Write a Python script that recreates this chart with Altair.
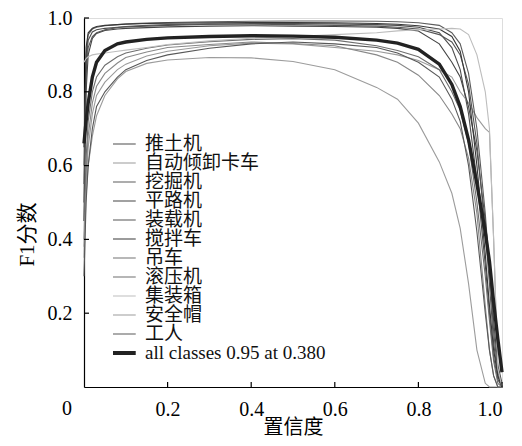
import altair as alt
import pandas as pd

# confidence grid
xs = [0, 0.005, 0.01, 0.02, 0.03, 0.05, 0.08, 0.1, 0.15, 0.2, 0.3, 0.4, 0.5, 0.6,
      0.7, 0.75, 0.8, 0.85, 0.88, 0.9, 0.92, 0.94, 0.96, 0.97, 0.98, 0.99, 1.0]

classes = ["推土机", "自动倾卸卡车", "挖掘机", "平路机", "装载机", "搅拌车",
           "吊车", "滚压机", "集装箱", "安全帽", "工人"]
colors = ["#4d4d4d", "#9a9a9a", "#5c5c5c", "#444444", "#555555", "#383838",
          "#888888", "#6e6e6e", "#bdbdbd", "#9c9c9c", "#585858"]

tuituji = [0.5, 0.88, 0.94, 0.962, 0.968, 0.972, 0.975, 0.976, 0.978, 0.98, 0.983, 0.985, 0.985, 0.984,
           0.982, 0.98, 0.975, 0.96, 0.92, 0.86, 0.74, 0.56, 0.33, 0.2, 0.08, 0.02, 0.0]
zidong = [0.38, 0.55, 0.65, 0.74, 0.79, 0.826, 0.86, 0.875, 0.897, 0.91, 0.925, 0.932, 0.93, 0.92,
          0.91, 0.9, 0.885, 0.86, 0.84, 0.8, 0.77, 0.73, 0.7, 0.69, 0.4, 0.05, 0.0]
wajue = [0.6, 0.9, 0.955, 0.97, 0.975, 0.979, 0.982, 0.984, 0.986, 0.988, 0.99, 0.991, 0.992, 0.992,
         0.991, 0.99, 0.987, 0.98, 0.96, 0.93, 0.85, 0.7, 0.47, 0.32, 0.15, 0.04, 0.0]
pinglu = [0.45, 0.8, 0.9, 0.945, 0.958, 0.966, 0.97, 0.972, 0.974, 0.976, 0.978, 0.979, 0.978, 0.977,
          0.975, 0.972, 0.965, 0.93, 0.88, 0.84, 0.76, 0.64, 0.45, 0.33, 0.18, 0.06, 0.01]
zhuangzai = [0.55, 0.85, 0.92, 0.95, 0.96, 0.968, 0.974, 0.977, 0.98, 0.982, 0.984, 0.983, 0.982, 0.98,
             0.978, 0.975, 0.97, 0.955, 0.935, 0.9, 0.82, 0.66, 0.42, 0.28, 0.12, 0.03, 0.0]
jiaoban = [0.65, 0.92, 0.96, 0.972, 0.977, 0.98, 0.982, 0.983, 0.985, 0.986, 0.987, 0.988, 0.988, 0.987,
           0.985, 0.983, 0.979, 0.97, 0.95, 0.91, 0.8, 0.6, 0.36, 0.22, 0.1, 0.03, 0.0]
diaoche = [0.4, 0.58, 0.68, 0.77, 0.815, 0.85, 0.878, 0.893, 0.908, 0.92, 0.928, 0.935, 0.931, 0.925,
           0.9, 0.88, 0.845, 0.79, 0.74, 0.7, 0.62, 0.47, 0.22, 0.1, 0.03, 0.0, 0.0]
gunya = [0.45, 0.62, 0.72, 0.8, 0.84, 0.872, 0.895, 0.905, 0.918, 0.927, 0.936, 0.942, 0.944, 0.94,
         0.925, 0.912, 0.895, 0.86, 0.8, 0.75, 0.66, 0.5, 0.3, 0.18, 0.07, 0.01, 0.0]
jizhuangxiang = [0.88, 0.89, 0.895, 0.9, 0.902, 0.905, 0.91, 0.913, 0.92, 0.928, 0.938, 0.945, 0.95, 0.955,
                 0.96, 0.965, 0.968, 0.97, 0.972, 0.97, 0.955, 0.9, 0.8, 0.7, 0.4, 0.05, 0.0]
anquanmao = [0.35, 0.52, 0.6, 0.68, 0.735, 0.79, 0.835, 0.855, 0.877, 0.886, 0.893, 0.892, 0.882, 0.86,
             0.812, 0.78, 0.715, 0.61, 0.525, 0.43, 0.28, 0.1, 0.01, 0.0, 0.0, 0.0, 0.0]
gongren = [0.3, 0.5, 0.6, 0.7, 0.76, 0.8, 0.84, 0.86, 0.885, 0.9, 0.918, 0.93, 0.935, 0.93,
           0.92, 0.905, 0.88, 0.84, 0.78, 0.72, 0.6, 0.42, 0.2, 0.1, 0.03, 0.0, 0.0]

mean_label = "all classes 0.95 at 0.380"
mean_all = [0.66, 0.72, 0.77, 0.84, 0.88, 0.912, 0.93, 0.935, 0.942, 0.946, 0.95, 0.952, 0.951, 0.948,
            0.94, 0.932, 0.915, 0.875, 0.82, 0.76, 0.67, 0.55, 0.42, 0.34, 0.23, 0.13, 0.04]

series = [tuituji, zidong, wajue, pinglu, zhuangzai, jiaoban, diaoche, gunya,
          jizhuangxiang, anquanmao, gongren]

tick_vals = [0.2, 0.4, 0.6, 0.8, 1.0]

rows = []
for name, ys in zip(classes, series):
    for x, y in zip(xs, ys):
        rows.append({"conf": x, "f1": y, "cls": name})
df_cls = pd.DataFrame(rows)
df_mean = pd.DataFrame({"conf": xs, "f1": mean_all, "cls": mean_label})
df_ticks = pd.DataFrame({"v": tick_vals})
df_zero = pd.DataFrame({"t": ["0"]})

domain = classes + [mean_label]
color_range = colors + ["#222222"]

LATIN = "Liberation Serif, Noto Sans CJK SC"
W, H = 418, 369

xscale = alt.Scale(domain=[0, 1], nice=False)
yscale = alt.Scale(domain=[0, 1], nice=False)

legend = alt.Legend(title=None, orient="none", legendX=29, legendY=117,
                    symbolType="stroke", symbolSize=700,
                    symbolStrokeWidth=alt.ExprRef(
                        "datum.value == '" + mean_label + "' ? 4 : 1.2"),
                    labelFont=LATIN, labelFontSize=19, labelColor="#111",
                    labelOffset=13, rowPadding=0, clipHeight=18, labelLimit=400,
                    padding=0)

color_enc = alt.Color("cls:N", scale=alt.Scale(domain=domain, range=color_range),
                      legend=legend)

xaxis = alt.Axis(values=tick_vals, format=".1f", tickSize=0, labelPadding=12, grid=False,
                 domainColor="black", domainWidth=1.2, labelFont=LATIN, labelFontSize=20,
                 labelColor="black", title="置信度", titleFont=LATIN, titleFontSize=20,
                 titleFontWeight="normal", titleColor="black", titleY=30,
                 titleBaseline="top")
yaxis = alt.Axis(values=tick_vals, format=".1f", tickSize=0, labelPadding=12, grid=False,
                 domainColor="black", domainWidth=1.2, labelFont=LATIN, labelFontSize=20,
                 labelColor="black", title="F1分数", titleFont=LATIN, titleFontSize=21,
                 titleFontWeight="normal", titleColor="black", titleX=-57, titleY=216,
                 titleAngle=270, titleAlign="center", titleBaseline="middle")

lines = alt.Chart(df_cls).mark_line(strokeWidth=1.1).encode(
    x=alt.X("conf:Q", scale=xscale, axis=xaxis),
    y=alt.Y("f1:Q", scale=yscale, axis=yaxis),
    color=color_enc,
)
mean_line = alt.Chart(df_mean).mark_line(strokeWidth=3.4).encode(
    x=alt.X("conf:Q", scale=xscale),
    y=alt.Y("f1:Q", scale=yscale),
    color=color_enc,
)
yticks = alt.Chart(df_ticks).mark_rule(color="black", strokeWidth=1.2).encode(
    y=alt.Y("v:Q", scale=yscale), x=alt.value(0), x2=alt.value(5))
xticks = alt.Chart(df_ticks).mark_rule(color="black", strokeWidth=1.2).encode(
    x=alt.X("v:Q", scale=xscale), y=alt.value(H), y2=alt.value(H - 5))
zero = alt.Chart(df_zero).mark_text(font=LATIN, fontSize=20, align="center",
                                     baseline="top", color="black").encode(
    x=alt.value(-17), y=alt.value(H + 12), text="t:N")

chart = alt.layer(lines, mean_line, yticks, xticks, zero).properties(
    width=W, height=H,
    padding={"left": 76, "top": 10, "right": 12, "bottom": 50},
    autosize=alt.AutoSizeParams(type="none"),
).configure_view(stroke=None).configure(background="white")

chart.save("out.html", embed_options={"renderer": "svg", "actions": False})
